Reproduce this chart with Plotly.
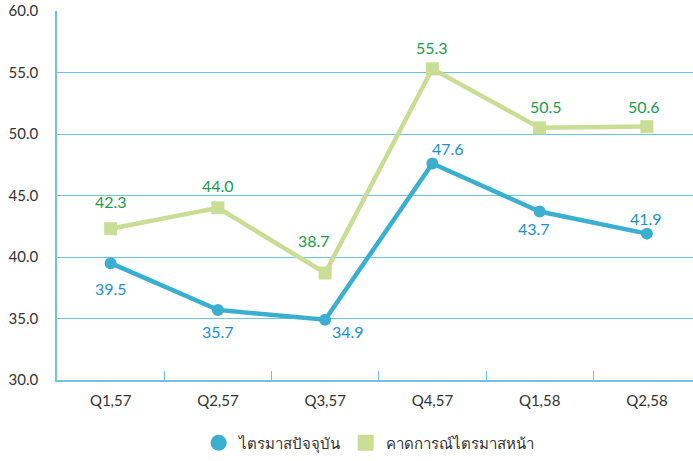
import plotly.graph_objects as go

categories = ["Q1,57", "Q2,57", "Q3,57", "Q4,57", "Q1,58", "Q2,58"]
current = [39.5, 35.7, 34.9, 47.6, 43.7, 41.9]
expected = [42.3, 44.0, 38.7, 55.3, 50.5, 50.6]
# label offsets (pixels)
current_dx = [0, 0, 23, 16, -6, -1]
current_dy = [-25, -22, -12, 15, -17, 15]
expected_dx = [0, 0, -11, 0, 6, -3]
expected_dy = [27, 22, 32, 21, 21, 20]
name_current = "ไตรมาสปัจจุบัน"
name_expected = "คาดการณ์ไตรมาสหน้า"

BLUE = "#3AAFD0"
GREEN = "#C9DD94"
FONT = "Lato, Noto Sans, sans-serif"

fig = go.Figure()
fig.add_trace(go.Scatter(
    x=categories, y=current, name=name_current, mode="lines+markers",
    line=dict(color=BLUE, width=4.5),
    marker=dict(symbol="circle", size=12, color=BLUE),
    showlegend=False, cliponaxis=False,
))
fig.add_trace(go.Scatter(
    x=categories, y=expected, name=name_expected, mode="lines+markers",
    line=dict(color=GREEN, width=4.5),
    marker=dict(symbol="square", size=13, color=GREEN),
    showlegend=False, cliponaxis=False,
))
# legend-only entries (markers only, as in the reference)
fig.add_trace(go.Scatter(x=[None], y=[None], mode="markers", name=name_current,
                         marker=dict(symbol="circle", size=16, color=BLUE)))
fig.add_trace(go.Scatter(x=[None], y=[None], mode="markers", name=name_expected,
                         marker=dict(symbol="square", size=16, color=GREEN)))

annotations = []
for c, v, dx, dy in zip(categories, current, current_dx, current_dy):
    annotations.append(dict(x=c, y=v, xref="x", yref="y", text=f"{v:.1f}", showarrow=False,
                            xshift=dx, yshift=dy,
                            font=dict(color="#1B8FD0", size=16, family=FONT)))
for c, v, dx, dy in zip(categories, expected, expected_dx, expected_dy):
    annotations.append(dict(x=c, y=v, xref="x", yref="y", text=f"{v:.1f}", showarrow=False,
                            xshift=dx, yshift=dy,
                            font=dict(color="#1A9A4A", size=16, family=FONT)))

fig.update_layout(
    width=693, height=461,
    margin=dict(l=57, r=0, t=11, b=81, autoexpand=False),
    plot_bgcolor="white", paper_bgcolor="white",
    font=dict(family=FONT, size=14, color="#333333"),
    showlegend=True,
    legend=dict(orientation="h", x=0.49, xanchor="center", y=-0.171, yanchor="middle",
                font=dict(size=15, color="#333333"), itemwidth=30, tracegroupgap=0),
    annotations=annotations,
)
fig.update_xaxes(
    type="category", range=[-0.5, 5.43], showgrid=False, showline=True,
    linecolor="#6EC3DF", linewidth=1.5,
    ticks="inside", tickson="boundaries", ticklen=9, tickcolor="#6EC3DF",
    tickfont=dict(size=15, color="#333333"), fixedrange=True, automargin=False,
    ticklabelstandoff=6,
)
fig.update_yaxes(
    range=[30, 60], dtick=5, tickformat=".1f", showgrid=True, gridcolor="#6EC3DF",
    gridwidth=1, showline=True, linecolor="#6EC3DF", linewidth=1.5, zeroline=False,
    tickfont=dict(size=15, color="#333333"), ticks="", ticklabelstandoff=14,
    automargin=False, fixedrange=True,
)
fig.write_html("out.html", config={"displayModeBar": False},
               post_script="document.body.style.margin='0px';")
